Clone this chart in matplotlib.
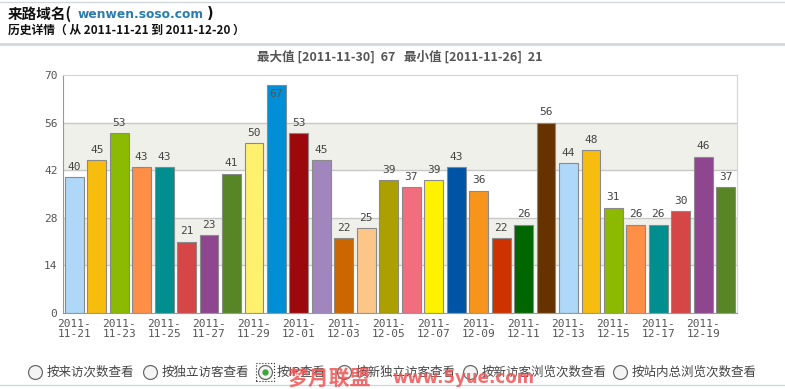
import matplotlib
matplotlib.use("Agg")
import matplotlib.pyplot as plt
from matplotlib.patches import Rectangle

plt.rcParams['font.family'] = ['Noto Sans CJK SC', 'DejaVu Sans']

dates = ['2011-11-21', '2011-11-22', '2011-11-23', '2011-11-24', '2011-11-25',
         '2011-11-26', '2011-11-27', '2011-11-28', '2011-11-29', '2011-11-30',
         '2011-12-01', '2011-12-02', '2011-12-03', '2011-12-04', '2011-12-05',
         '2011-12-06', '2011-12-07', '2011-12-08', '2011-12-09', '2011-12-10',
         '2011-12-11', '2011-12-12', '2011-12-13', '2011-12-14', '2011-12-15',
         '2011-12-16', '2011-12-17', '2011-12-18', '2011-12-19', '2011-12-20']
values = [40, 45, 53, 43, 43, 21, 23, 41, 50, 67, 53, 45, 22, 25, 39,
          37, 39, 43, 36, 22, 26, 56, 44, 48, 31, 26, 26, 30, 46, 37]
palette = ['#afd8f8', '#f6bd0f', '#8bba00', '#ff8e46', '#008e8e', '#d64646',
           '#8e468e', '#588526', '#fff06e', '#008ed6', '#9d080d', '#a186be',
           '#cc6600', '#fdc689', '#aba000', '#f26d7d', '#fff200', '#0054a6',
           '#f7941c', '#cc3300', '#006600', '#663300']
yticks = [0, 14, 28, 42, 56, 70]
options = ['按来访次数查看', '按独立访客查看', '按IP查看', '按新独立访客查看',
           '按新访客浏览次数查看', '按站内总浏览次数查看']

W, H = 785, 389
fig = plt.figure(figsize=(W / 100, H / 100), dpi=100)
fig.patch.set_facecolor('white')

# plot area in pixel coords
x0, x1, ytop, ybot = 63, 737, 75, 313
ax = fig.add_axes([x0 / W, 1 - ybot / H, (x1 - x0) / W, (ybot - ytop) / H])
ax.set_xlim(-0.5, len(values) - 0.5)
ax.set_ylim(0, 70)

# alternating bands
for lo, hi in [(14, 28), (42, 56)]:
    ax.axhspan(lo, hi, color='#f0f0ea', zorder=0, lw=0)
for t in yticks[1:-1]:
    ax.axhline(t, color='#c8c8c8', lw=1, zorder=1)

colors = [palette[i % len(palette)] for i in range(len(values))]
xs = list(range(len(values)))
ax.bar(xs, values, width=0.84, color=colors, edgecolor='#8a8a8a', lw=0.8, zorder=2)

for x, v in zip(xs, values):
    if v > 64:
        ax.text(x, v - 1.2, str(v), ha='center', va='top', fontsize=8,
                family='DejaVu Sans Mono', color='#555555', zorder=3)
    else:
        ax.text(x, v + 1.5, str(v), ha='center', va='bottom', fontsize=8,
                family='DejaVu Sans Mono', color='#444444', zorder=3)

ax.set_yticks(yticks)
ax.set_yticklabels([str(t) for t in yticks], family='DejaVu Sans Mono',
                   fontsize=8, color='#555555')
ax.set_xticks(xs[::2])
ax.set_xticklabels([d[:5] + '\n' + d[5:] for d in dates[::2]],
                   family='DejaVu Sans Mono', fontsize=8, color='#555555',
                   linespacing=1.1)
ax.tick_params(length=0, pad=4)
for s in ['top', 'right']:
    ax.spines[s].set_color('#d4d4d4')
ax.spines['left'].set_color('#999999')
ax.spines['bottom'].set_color('#999999')

# header
fig.text(8 / W, 1 - 14 / H, '来路域名(', fontsize=10.5, fontweight='bold',
         va='center', color='#111111')
fig.text(78 / W, 1 - 14 / H, 'wenwen.soso.com', fontsize=8.8, fontweight='bold',
         va='center', color='#2a7cb0', family='DejaVu Sans')
fig.text(207 / W, 1 - 14 / H, ')', fontsize=10.5, fontweight='bold',
         va='center', color='#111111', family='DejaVu Sans')
fig.text(8 / W, 1 - 30 / H, '历史详情（ 从 2011-11-21 到 2011-12-20 ）', fontsize=8.5,
         fontweight='bold', va='center', color='#111111')
fig.add_artist(plt.Line2D([0, 1], [1 - 44 / H] * 2, color='#d0d8dc', lw=2))
fig.add_artist(plt.Line2D([0, 1], [1 - 2 / H] * 2, color='#d0d8dc', lw=1))
fig.text(400 / W, 1 - 57 / H, '最大值 [2011-11-30]  67   最小值 [2011-11-26]  21',
         ha='center', va='center', fontsize=9, fontweight='bold', color='#555555')

# radio options
cx = [35, 150, 265, 344, 470, 620]
ry = 1 - 372 / H
for i, (c, lab) in enumerate(zip(cx, options)):
    fig.add_artist(plt.Line2D([c / W], [ry], marker='o', ms=10, mfc='#f4f4f4',
                              mec='#6a6a6a', mew=0.9))
    if i == 2:
        fig.add_artist(plt.Line2D([c / W], [ry], marker='o', ms=3.5, mfc='#3aa43a',
                                  mec='#3aa43a'))
        fig.add_artist(Rectangle(((c - 9) / W, ry - 9 / H), 18 / W, 18 / H,
                                 transform=fig.transFigure, fill=False,
                                 ls=':', lw=0.8, ec='#222222'))
    fig.text((c + 12) / W, ry, lab, fontsize=9, va='center', color='#444444')

fig.add_artist(plt.Line2D([0, 1], [1 - 385 / H] * 2, color='#d0d8dc', lw=1))

# watermark
fig.text(287 / W, 1 - 378 / H, '梦月联盟', fontsize=15, fontweight='bold',
         color='#ee5555', alpha=0.85, va='center')
fig.text(392 / W, 1 - 378 / H, 'www.5yue.com', fontsize=12, fontweight='bold',
         color='#ee5555', alpha=0.85, va='center', family='DejaVu Sans')

fig.savefig('out.png', dpi=100)
